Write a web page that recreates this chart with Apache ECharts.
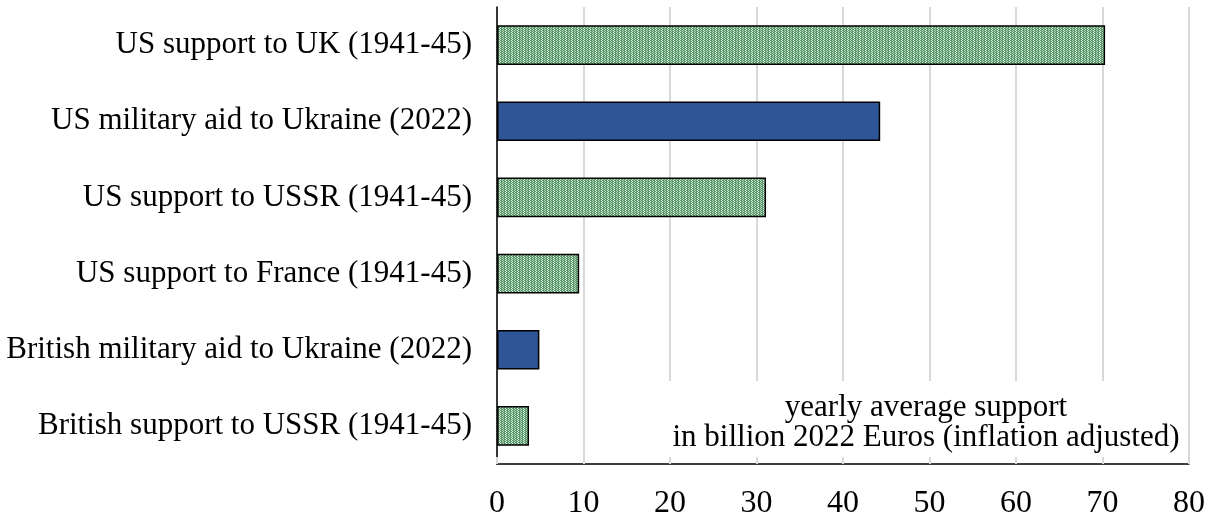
<!DOCTYPE html>
<html><head><meta charset="utf-8">
<script src="https://cdn.jsdelivr.net/npm/echarts@6/dist/echarts.min.js"></script>
<style>html,body{margin:0;padding:0;background:#fff}#c{width:1215px;height:517px}</style>
</head><body><div id="c"></div>
<script>
var categories = ['US support to UK (1941-45)','US military aid to Ukraine (2022)','US support to USSR (1941-45)','US support to France (1941-45)','British military aid to Ukraine (2022)','British support to USSR (1941-45)'];
var values = [70.3, 44.3, 31.1, 9.5, 4.9, 3.7];
var kinds = ['ww2','ukraine','ww2','ww2','ukraine','ww2'];
var xTicks = [0,10,20,30,40,50,60,70,80];
var noteLines = ['yearly average support','in billion 2022 Euros (inflation adjusted)'];

function makePattern(){
  var c = document.createElement('canvas'); c.width = 6; c.height = 4;
  var g = c.getContext('2d');
  g.fillStyle = '#5a9a6d'; g.fillRect(0,0,6,4);
  g.fillStyle = '#e3f0e4';
  g.fillRect(1,0,1,1); g.fillRect(1,2,1,1);
  g.fillRect(2,1,1,1); g.fillRect(2,3,1,1);
  g.fillStyle = '#b5d5bb';
  g.fillRect(4,0,1,1); g.fillRect(4,2,1,1); g.fillRect(5,1,1,1); g.fillRect(5,3,1,1);
  return c;
}
var pat = {image: makePattern(), repeat: 'repeat'};
var font = 'Liberation Serif';
var chart = echarts.init(document.getElementById('c'));
var data = values.map(function(v,i){
  return {value: v, itemStyle: {color: kinds[i]==='ukraine' ? '#2f5597' : pat}};
});
chart.setOption({
  animation: false,
  grid: {left: 497, right: 26, top: 7, bottom: 53, containLabel: false, outerBoundsMode: 'none'},
  graphic: [{
    type: 'rect', z: 5,
    shape: {x: 600, y: 381, width: 588, height: 82},
    style: {fill: '#fff'}
  },{
    type: 'text', z: 6,
    style: {
      x: 926, y: 393,
      text: noteLines.join('\n'),
      fontFamily: font, fontSize: 31, lineHeight: 30, fill: '#000',
      align: 'center', verticalAlign: 'top'
    }
  }],
  xAxis: [{
    type: 'value', min: 0, max: 80, interval: 10,
    axisLine: {show: false}, axisTick: {show: false}, axisLabel: {show: false},
    splitLine: {show: true, lineStyle: {color: '#d9d9d9', width: 2}}, z: 0
  },{
    type: 'value', min: 0, max: 80, interval: 10, position: 'bottom',
    axisLine: {show: true, lineStyle: {color: '#000', width: 1.5}},
    axisTick: {show: true, inside: true, length: 7, lineStyle: {color: '#d9d9d9', width: 2}},
    axisLabel: {show: true, fontFamily: font, fontSize: 32, color: '#000', margin: 24,
      formatter: function(v){ return xTicks.indexOf(v) >= 0 ? String(v) : ''; }},
    splitLine: {show: false}, z: 10
  }],
  yAxis: {
    type: 'category', data: categories, inverse: true,
    axisLine: {show: true, lineStyle: {color: '#000', width: 1.5}},
    axisTick: {show: false},
    axisLabel: {fontFamily: font, fontSize: 31, color: '#000', margin: 25},
    z: 10
  },
  series: [{
    type: 'bar', data: data, barWidth: '52%', xAxisIndex: 0,
    itemStyle: {borderColor: '#000', borderWidth: 1.5}, z: 3
  }]
});
</script></body></html>
